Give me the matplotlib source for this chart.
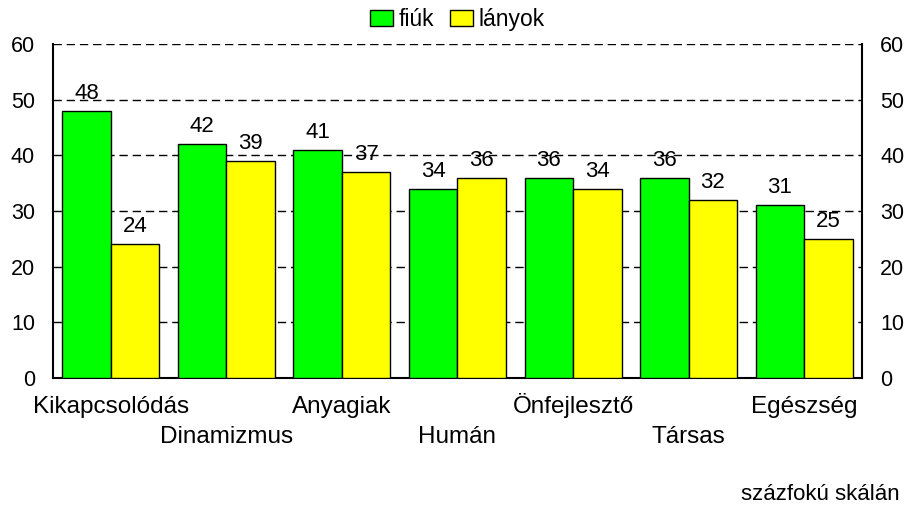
import matplotlib.pyplot as plt
import numpy as np

plt.rcParams["font.family"] = ["Liberation Sans", "DejaVu Sans"]

categories = ["Kikapcsolódás", "Dinamizmus", "Anyagiak", "Humán",
              "Önfejlesztő", "Társas", "Egészség"]
fiuk = [48, 42, 41, 34, 36, 36, 31]
lanyok = [24, 39, 37, 36, 34, 32, 25]
yticks = [0, 10, 20, 30, 40, 50, 60]

green = "#00ff00"
yellow = "#ffff00"

fig = plt.figure(figsize=(9.07, 5.08), dpi=100)
ax = fig.add_axes([0.0584, 0.2559, 0.8920, 0.6575])

x = np.arange(len(categories))
w = 0.42
b1 = ax.bar(x - w / 2, fiuk, w, color=green, edgecolor="black", lw=1.0,
            label="fiúk", zorder=3)
b2 = ax.bar(x + w / 2, lanyok, w, color=yellow, edgecolor="black", lw=1.0,
            label="lányok", zorder=3)

# value labels above each bar
for bars, vals in ((b1, fiuk), (b2, lanyok)):
    for r, v in zip(bars, vals):
        ax.annotate(str(v), (r.get_x() + r.get_width() / 2, v),
                    xytext=(0, 12), textcoords="offset pixels",
                    ha="center", va="baseline", fontsize=16, zorder=4)

ax.set_xlim(-0.5, len(categories) - 0.5)
ax.set_ylim(0, 60)
ax.set_yticks(yticks)
ax.set_xticks([])
ax.tick_params(axis="y", length=0, labelsize=15.5, pad=13,
               labelright=True, right=False)

# dashed horizontal grid, behind the bars
for t in yticks[1:]:
    ax.axhline(t, color="black", lw=1.0, ls=(0, (6, 3.5)), zorder=1)

for s in ("left", "right", "bottom"):
    ax.spines[s].set_linewidth(1.5)
ax.spines["top"].set_visible(False)

# category names in two staggered rows
for i, name in enumerate(categories):
    off = -35 if i % 2 == 0 else -65
    ax.annotate(name, (i, 0), xycoords=("data", "axes fraction"),
                xytext=(0, off), textcoords="offset pixels",
                ha="center", va="baseline", fontsize=17.5,
                annotation_clip=False)

fig.legend(loc="center", bbox_to_anchor=(0.504, 0.961), ncol=2,
           frameon=False, fontsize=16.5, handlelength=1.0, handleheight=0.7,
           handletextpad=0.25, columnspacing=0.7, borderpad=0)

fig.text(0.992, 0.016, "százfokú skálán", ha="right", va="baseline",
         fontsize=16)

fig.savefig("out.png", dpi=100)
